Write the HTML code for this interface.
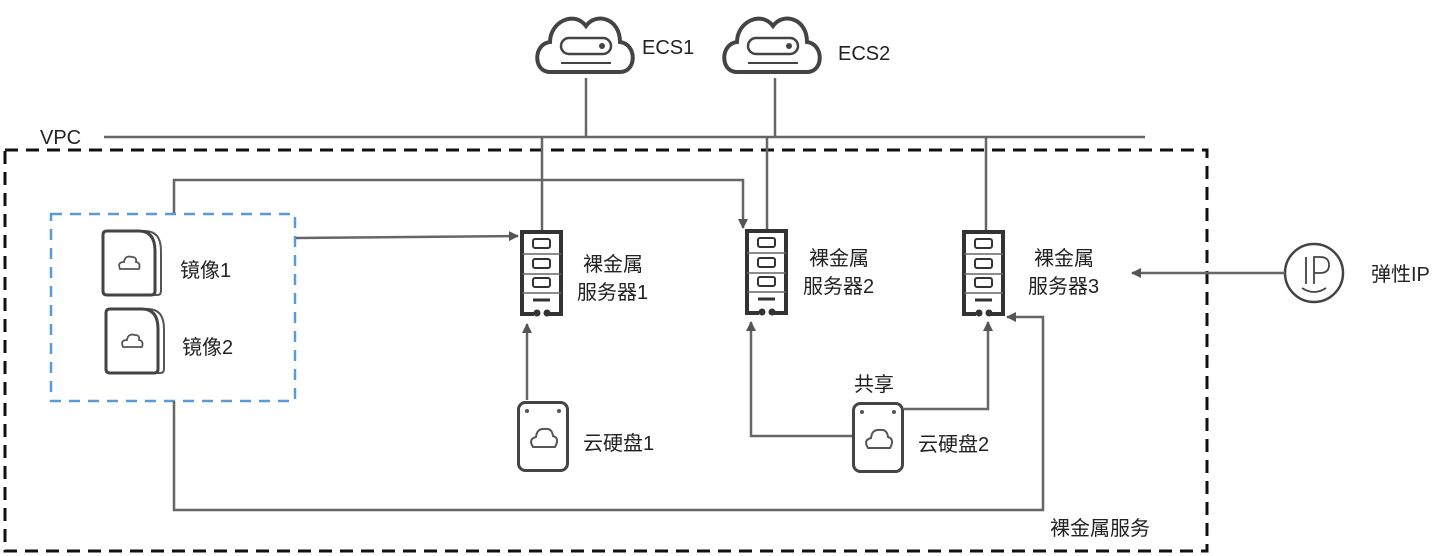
<!DOCTYPE html>
<html><head><meta charset="utf-8"><style>
html,body{margin:0;padding:0;background:#fff;}
svg{display:block}
text{font-family:"Liberation Sans","Noto Sans CJK SC",sans-serif;fill:#222;font-size:20px}
</style></head><body>
<svg width="1440" height="556" viewBox="0 0 1440 556" xmlns="http://www.w3.org/2000/svg">
<defs>
<marker id="a" markerWidth="10" markerHeight="10" refX="9" refY="5" orient="auto" markerUnits="userSpaceOnUse">
<path d="M0,0 L10,5 L0,10 z" fill="#555"/></marker>
<g id="srv">
<rect x="2" y="2" width="39" height="82" fill="#fff" stroke="#333" stroke-width="4"/>
<line x1="2" y1="24" x2="41" y2="24" stroke="#666" stroke-width="1.5"/>
<line x1="2" y1="44" x2="41" y2="44" stroke="#666" stroke-width="1.5"/>
<line x1="2" y1="63" x2="41" y2="63" stroke="#666" stroke-width="1.5"/>
<rect x="13" y="9" width="17" height="9" rx="2" fill="none" stroke="#333" stroke-width="2"/>
<rect x="13" y="29" width="17" height="9" rx="2" fill="none" stroke="#333" stroke-width="2"/>
<rect x="13" y="48" width="17" height="9" rx="2" fill="none" stroke="#333" stroke-width="2"/>
<line x1="13" y1="70" x2="30" y2="70" stroke="#333" stroke-width="3"/>
<rect x="14" y="78" width="15" height="10" fill="#fff"/>
<circle cx="17" cy="83" r="3.5" fill="#333"/><circle cx="27" cy="83" r="3.5" fill="#333"/>
</g>
<g id="cloud">
<path d="M14,62 C-3,62 -3,34 14,32 C14,12 38,0 50,16 C60,2 84,8 84,32 C101,34 101,62 84,62 Z" fill="#fff" stroke="#444" stroke-width="4"/>
<rect x="25" y="28" width="50" height="16" rx="8" fill="none" stroke="#444" stroke-width="2.5"/>
<circle cx="66" cy="36" r="3" fill="#444"/>
<line x1="25" y1="53" x2="75" y2="53" stroke="#444" stroke-width="2"/>
</g>
<g id="img">
<path d="M10,0 H42 Q58,0 58,20 V60 Q58,64 54,64 H10 Z" fill="#fff" stroke="#555" stroke-width="2"/>
<path d="M4,0 H36 Q52,0 52,20 V60 Q52,64 48,64 H4 Q0,64 0,60 V4 Q0,0 4,0 Z" fill="#fff" stroke="#444" stroke-width="3"/>
<path d="M17,38 Q14,31 21,31 Q22,24 29,26 Q34,26 33,31 Q38,32 36,38 Z" fill="none" stroke="#555" stroke-width="1.8"/>
</g>
<g id="disk">
<rect x="1.5" y="1.5" width="49" height="68" rx="7" fill="#fff" stroke="#444" stroke-width="3"/>
<circle cx="10" cy="10" r="2" fill="#555"/><circle cx="42" cy="10" r="2" fill="#555"/>
<path d="M16,46 Q11,38 19,36 Q20,27 28,28 Q35,27 36,35 Q43,37 38,46 Z" fill="none" stroke="#555" stroke-width="2"/>
</g>
</defs>

<rect x="5" y="150" width="1202" height="401" fill="none" stroke="#111" stroke-width="3" stroke-dasharray="13,8"/>
<rect x="51" y="214" width="244" height="187" fill="none" stroke="#5b9bd5" stroke-width="2.5" stroke-dasharray="11,8"/>

<line x1="104" y1="137" x2="1145" y2="137" stroke="#666" stroke-width="2.5"/>
<text x="40" y="144" font-size="21">VPC</text>

<use href="#cloud" x="536" y="10"/>
<use href="#cloud" x="723" y="10"/>
<text x="642" y="54">ECS1</text>
<text x="838" y="60">ECS2</text>
<line x1="586" y1="78" x2="586" y2="137" stroke="#666" stroke-width="2.5"/>
<line x1="775" y1="78" x2="775" y2="137" stroke="#666" stroke-width="2.5"/>

<line x1="542" y1="137" x2="542" y2="231" stroke="#666" stroke-width="2.5"/>
<line x1="767" y1="137" x2="767" y2="231" stroke="#666" stroke-width="2.5"/>
<line x1="986" y1="137" x2="986" y2="231" stroke="#666" stroke-width="2.5"/>

<use href="#srv" x="520" y="230"/>
<use href="#srv" x="745" y="229"/>
<use href="#srv" x="962" y="230"/>
<text x="583" y="271">裸金属</text><text x="577" y="299">服务器1</text>
<text x="809" y="265">裸金属</text><text x="803" y="293">服务器2</text>
<text x="1034" y="265">裸金属</text><text x="1028" y="293">服务器3</text>

<polyline points="174,213 174,180 743,180 743,228" fill="none" stroke="#666" stroke-width="2.5" marker-end="url(#a)"/>
<line x1="296" y1="238" x2="518" y2="236" stroke="#666" stroke-width="2.5" marker-end="url(#a)"/>

<use href="#img" x="103" y="231"/>
<use href="#img" x="106" y="309"/>
<text x="180" y="277">镜像1</text>
<text x="182" y="354">镜像2</text>

<use href="#disk" x="517" y="401"/>
<text x="583" y="450">云硬盘1</text>
<line x1="527" y1="400" x2="527" y2="324" stroke="#666" stroke-width="2.5" marker-end="url(#a)"/>

<use href="#disk" x="852" y="402"/>
<text x="854" y="391">共享</text>
<text x="918" y="451">云硬盘2</text>
<polyline points="852,436 751,436 751,322" fill="none" stroke="#666" stroke-width="2.5" marker-end="url(#a)"/>
<polyline points="904,409 988,409 988,322" fill="none" stroke="#666" stroke-width="2.5" marker-end="url(#a)"/>

<polyline points="174,401 174,510 1043,510 1043,317 1007,317" fill="none" stroke="#666" stroke-width="2.5" marker-end="url(#a)"/>

<circle cx="1314" cy="273" r="29" fill="#fff" stroke="#444" stroke-width="2.5"/>
<line x1="1306" y1="257" x2="1306" y2="284" stroke="#444" stroke-width="1.8"/>
<path d="M1314,284 V257 H1320 Q1329,257 1329,265 Q1329,273 1320,273 H1314" fill="none" stroke="#444" stroke-width="1.8"/>
<path d="M1302,288 Q1314,296 1326,288" fill="none" stroke="#444" stroke-width="1.8"/>
<line x1="1285" y1="273" x2="1132" y2="273" stroke="#666" stroke-width="2.5" marker-end="url(#a)"/>
<text x="1371" y="281">弹性IP</text>

<text x="1050" y="535">裸金属服务</text>
</svg>
</body></html>
